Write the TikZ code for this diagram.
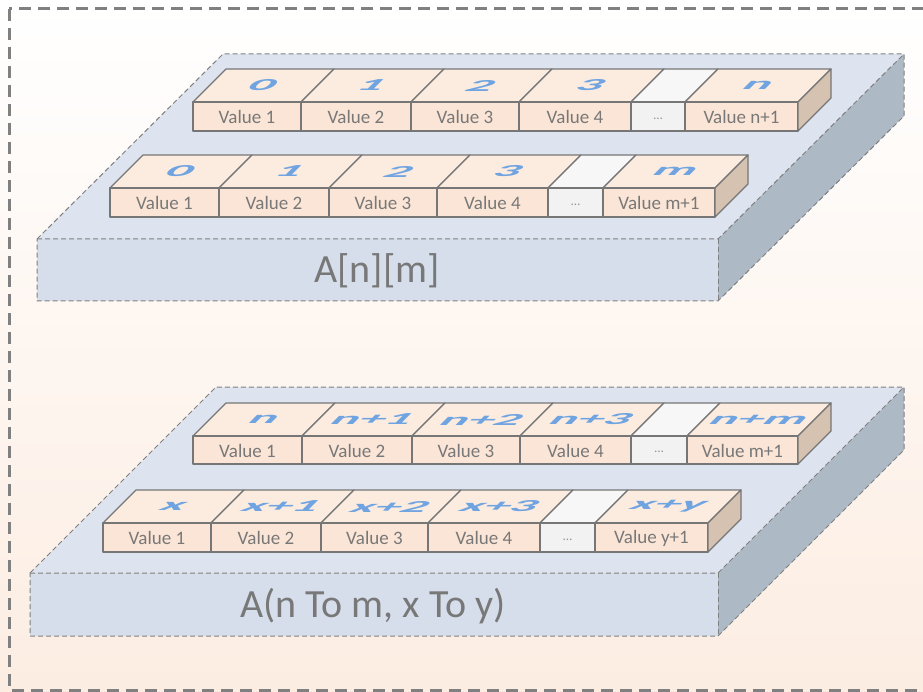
\documentclass[tikz,border=0pt]{standalone}
\usepackage{fontspec}
\setmainfont{Carlito}
\definecolor{slabtop}{RGB}{221,228,239}
\definecolor{slabfront}{RGB}{214,222,235}
\definecolor{slabside}{RGB}{174,185,198}
\definecolor{slabline}{RGB}{128,128,128}
\definecolor{cellfront}{RGB}{251,229,214}
\definecolor{celltop}{RGB}{252,236,224}
\definecolor{cellside}{RGB}{214,194,176}
\definecolor{dotfront}{RGB}{242,242,242}
\definecolor{dottop}{RGB}{247,247,247}
\definecolor{cellline}{RGB}{118,118,118}
\definecolor{idxblue}{RGB}{112,164,224}
\definecolor{txtgray}{RGB}{120,120,120}
\definecolor{peach}{RGB}{252,237,226}
\tikzset{
  slab/.style={draw=slabline, line width=1pt, dash pattern=on 5pt off 3pt},
  cellbox/.style={draw=cellline, line width=1.2pt, line join=round},
  frontlbl/.style={font=\fontsize{19}{22}\selectfont, text=txtgray, inner sep=0pt},
  dotlbl/.style={font=\fontsize{13}{15}\selectfont, text=txtgray!80, inner sep=0pt},
  idxlbl/.style={font=\fontsize{40}{46}\selectfont\bfseries, text=idxblue, inner sep=0pt},
  biglbl/.style={font=\fontsize{40}{46}\selectfont, text=txtgray, inner sep=0pt},
}
% #1 x0, #2 x1, #3 ytop, #4 ybottom, #5 top label, #6 front label, #7 front fill, #8 top fill
\newcommand\boxcell[8]{%
  \filldraw[cellbox, fill=#8] (#1,#3) -- (#1+33,#3-33) -- (#2+33,#3-33) -- (#2,#3) -- cycle;
  \filldraw[cellbox, fill=#7] (#1,#3) rectangle (#2,#4);
  \node[frontlbl] (v#1x#3) at ({(#1+#2)/2},{(#3+#4)/2+0.5}) {#6};
  \begin{scope}[shift={({(#1+#2)/2+16.5},{#3-16.5})}, xslant=1, yscale=0.42, xscale=1.3]
    \node[idxlbl, transform shape] (i#1x#3) at (0,0) {#5};
  \end{scope}
}
\newcommand\dotcell[4]{%
  \filldraw[cellbox, fill=dottop] (#1,#3) -- (#1+33,#3-33) -- (#2+33,#3-33) -- (#2,#3) -- cycle;
  \filldraw[cellbox, fill=dotfront] (#1,#3) rectangle (#2,#4);
  \node[dotlbl] (d#1x#3) at ({(#1+#2)/2},{(#3+#4)/2+2}) {…};
}
\newcommand\rowside[3]{%
  \filldraw[cellbox, fill=cellside] (#1,#2) -- (#1+33,#2-33) -- (#1+33,#3-33) -- (#1,#3) -- cycle;
}
\begin{document}
\begin{tikzpicture}[x=1pt, y=-1pt]
\useasboundingbox (0,0) rectangle (923,692);
\shade[top color=white, middle color=white, bottom color=peach] (0,0) rectangle (923,692);
\draw[slabline, line width=3pt, dash pattern=on 12pt off 7pt] (9,9) rectangle (935,690);

% ---------- top slab ----------
\fill[slabtop] (37,239) -- (223,54) -- (904,54) -- (718,239) -- cycle;
\fill[slabside] (718,239) -- (904,54) -- (904,116) -- (718,301) -- cycle;
\fill[slabfront] (37,239) rectangle (718,301);
\draw[slab] (37,239) -- (223,54) -- (904,54) -- (904,116) -- (718,301) -- (37,301) -- cycle;
\draw[slab] (37,239) -- (718,239) -- (904,54);
\draw[slab] (718,239) -- (718,301);
\node[biglbl] (lblA) at (377,271) {A[n][m]};

% row 1
\boxcell{193}{301}{102}{131}{0}{Value 1}{cellfront}{celltop}
\boxcell{301}{411}{102}{131}{1}{Value 2}{cellfront}{celltop}
\boxcell{411}{519}{102}{131}{2}{Value 3}{cellfront}{celltop}
\boxcell{519}{631}{102}{131}{3}{Value 4}{cellfront}{celltop}
\dotcell{631}{685}{102}{131}
\boxcell{685}{798}{102}{131}{n}{Value n+1}{cellfront}{celltop}
\rowside{798}{102}{131}
% row 2
\boxcell{110}{219}{188}{217}{0}{Value 1}{cellfront}{celltop}
\boxcell{219}{329}{188}{217}{1}{Value 2}{cellfront}{celltop}
\boxcell{329}{437}{188}{217}{2}{Value 3}{cellfront}{celltop}
\boxcell{437}{548}{188}{217}{3}{Value 4}{cellfront}{celltop}
\dotcell{548}{603}{188}{217}
\boxcell{603}{715}{188}{217}{m}{Value m+1}{cellfront}{celltop}
\rowside{715}{188}{217}

% ---------- bottom slab ----------
\fill[slabtop] (30,573) -- (216,387) -- (904,387) -- (718,573) -- cycle;
\fill[slabside] (718,573) -- (904,387) -- (904,450) -- (718,636) -- cycle;
\fill[slabfront] (30,573) rectangle (718,636);
\draw[slab] (30,573) -- (216,387) -- (904,387) -- (904,450) -- (718,636) -- (30,636) -- cycle;
\draw[slab] (30,573) -- (718,573) -- (904,387);
\draw[slab] (718,573) -- (718,636);
\node[biglbl] (lblB) at (373,606) {A(n To m, x To y)};

% row 1
\boxcell{193}{302}{436}{464}{n}{Value 1}{cellfront}{celltop}
\boxcell{302}{412}{436}{464}{n+1}{Value 2}{cellfront}{celltop}
\boxcell{412}{520}{436}{464}{n+2}{Value 3}{cellfront}{celltop}
\boxcell{520}{631}{436}{464}{n+3}{Value 4}{cellfront}{celltop}
\dotcell{631}{687}{436}{464}
\boxcell{687}{798}{436}{464}{n+m}{Value m+1}{cellfront}{celltop}
\rowside{798}{436}{464}
% row 2
\boxcell{103}{211}{523}{552}{x}{Value 1}{cellfront}{celltop}
\boxcell{211}{321}{523}{552}{x+1}{Value 2}{cellfront}{celltop}
\boxcell{321}{428}{523}{552}{x+2}{Value 3}{cellfront}{celltop}
\boxcell{428}{540}{523}{552}{x+3}{Value 4}{cellfront}{celltop}
\dotcell{540}{595}{523}{552}
\boxcell{595}{708}{523}{552}{x+y}{Value y+1}{cellfront}{celltop}
\rowside{708}{523}{552}
\end{tikzpicture}
\end{document}
